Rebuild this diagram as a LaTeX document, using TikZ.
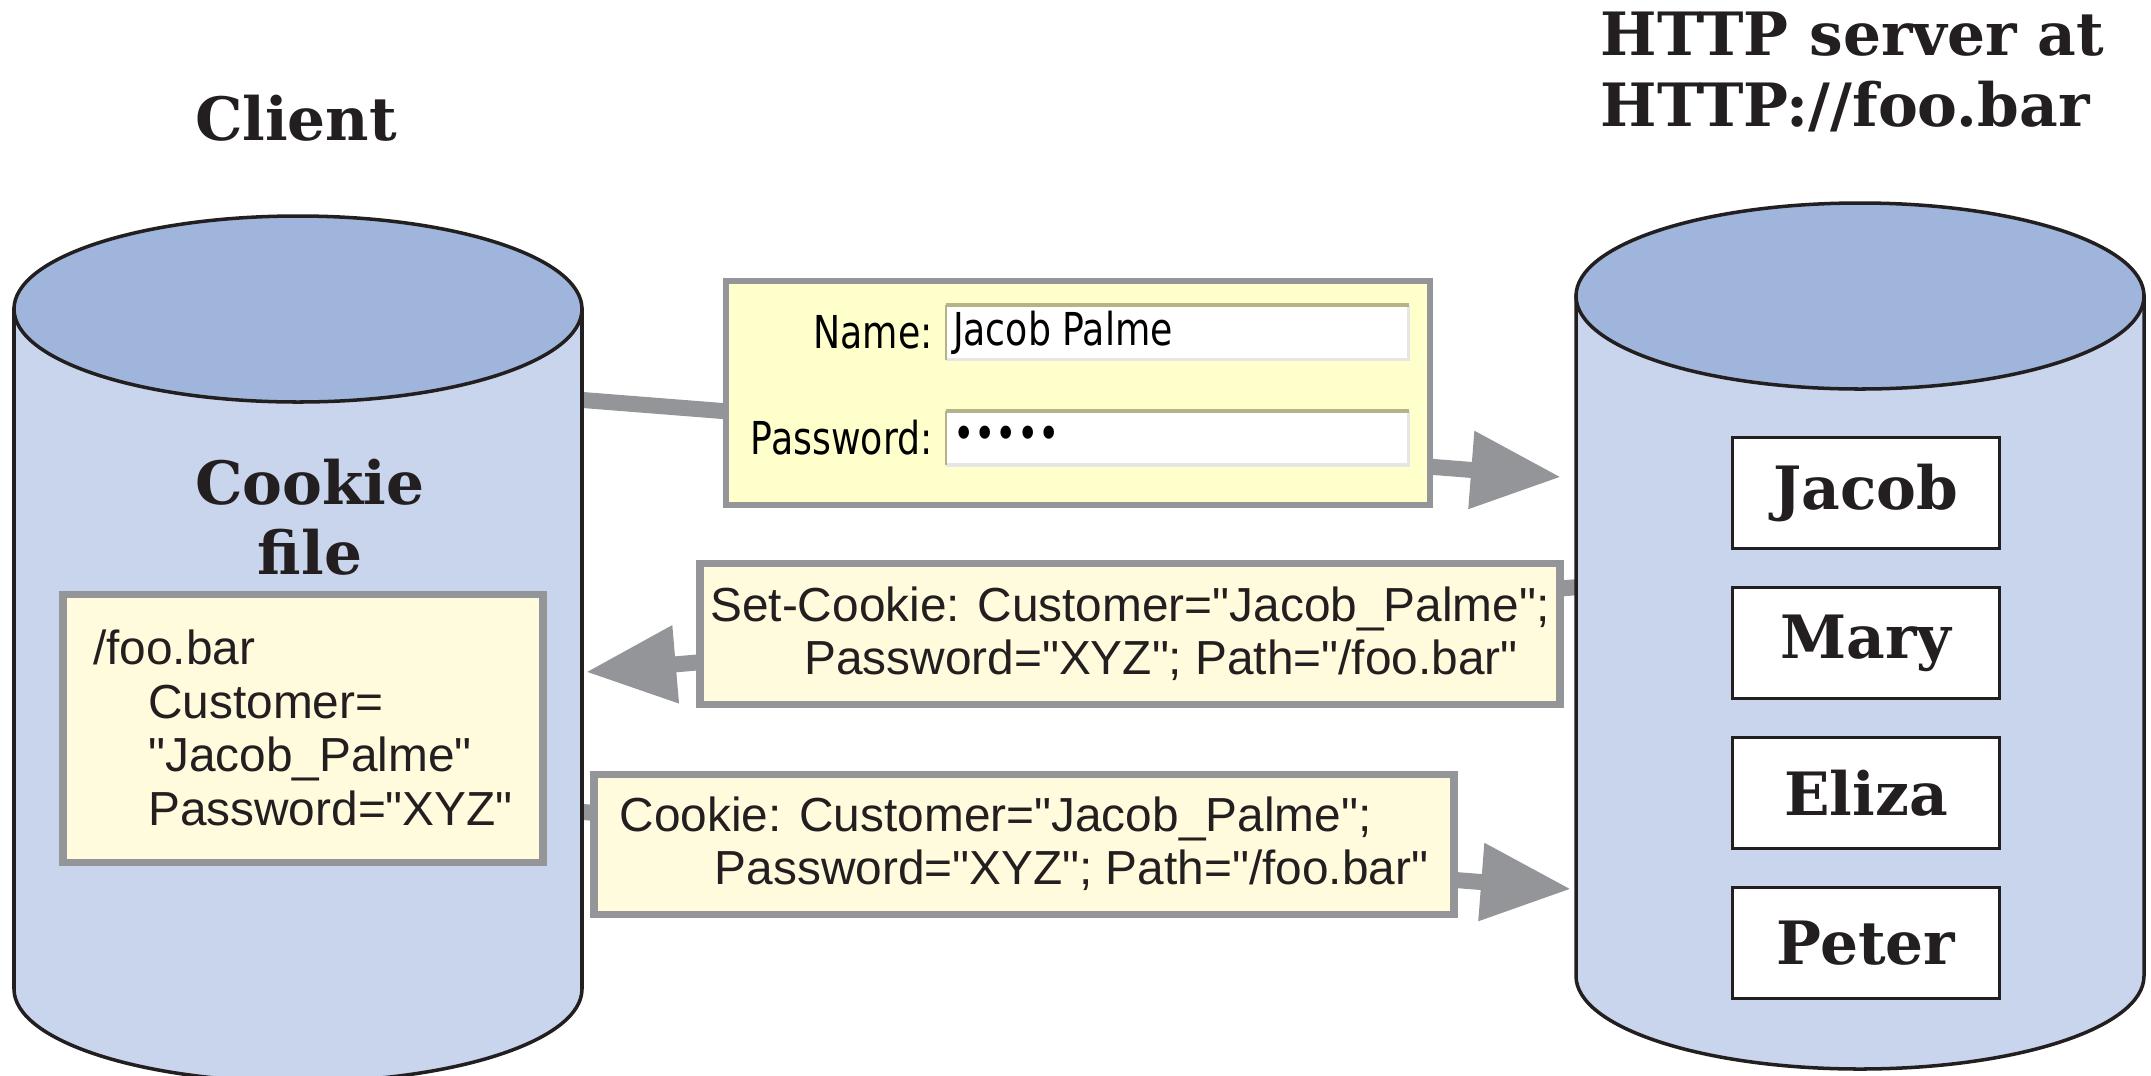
\documentclass[tikz,border=0pt]{standalone}
\usepackage{fontspec}
\usepackage{tikz}
\usetikzlibrary{backgrounds,positioning,arrows.meta}
\usepackage{xcolor}
\setmainfont{Liberation Sans}[Ligatures=TeXOff]
\newfontfamily\titlefont{DejaVu Serif}
\newfontfamily\formfont{DejaVu Sans}[FakeStretch=0.8]
\definecolor{topblue}{HTML}{A0B5DB}
\definecolor{bodyblue}{HTML}{C9D5EC}
\definecolor{arrowgray}{HTML}{939598}
\definecolor{formyellow}{HTML}{FFFFCC}
\definecolor{noteyellow}{HTML}{FFFBDC}
\definecolor{fieldolive}{HTML}{B5B38A}
\definecolor{fieldgray}{HTML}{E6E6E6}
\definecolor{inkblack}{HTML}{231F20}

\begin{document}
\begin{tikzpicture}[
  x=0.1mm, y=-0.1mm,
  cylstyle/.style={draw=inkblack, line width=1pt, fill=bodyblue},
  titlestyle/.style={inner sep=0, text=inkblack, font={\titlefont\bfseries\fontsize{17pt}{20pt}\selectfont}},
  namestyle/.style={titlestyle, draw=inkblack, line width=0.6pt, fill=white, minimum width=26.7mm, minimum height=11.1mm},
  notestyle/.style={draw=arrowgray, line width=2pt, fill=noteyellow, inner sep=0, align=left, text=inkblack, font={\fontsize{13.6pt}{15.2pt}\selectfont}},
  formstyle/.style={draw=arrowgray, line width=1.7pt, fill=formyellow, minimum width=70.4mm, minimum height=22.4mm},
  fieldstyle/.style={draw=none, fill=white, inner sep=0, minimum width=46.1mm, minimum height=5.3mm},
  formtext/.style={inner sep=0, font={\formfont\fontsize{12.9pt}{15pt}\selectfont}},
  pathstyle/.style={draw=arrowgray, line width=1.6mm, -{Triangle[length=9mm, width=7.4mm]}}
]
  \useasboundingbox (0,0) rectangle (2151,1075);

  % client and server stores
  \foreach \cx/\ty in {298/309, 1860/296} {
    \filldraw[cylstyle] (\cx-284,\ty) -- (\cx-284,\ty+680)
      arc[start angle=180, end angle=0, x radius=284, y radius=93] -- (\cx+284,\ty) -- cycle;
    \filldraw[cylstyle, fill=topblue] (\cx,\ty) ellipse[x radius=284, y radius=93];
  }

  \node[titlestyle] (clienttitle) at (296,118)
    {Client};
  \node[titlestyle, anchor=west, align=left] (servertitle) at (1600,72)
    {HTTP server at\\HTTP://foo.bar};
  \node[titlestyle, align=center] (cookietitle) at (310,517)
    {Cookie\\file};

  \node[notestyle, minimum width=48mm, minimum height=26.8mm] (cookiefile) at (303,728)
    {/foo.bar\\\hspace*{5.5mm}Customer=\\\hspace*{5.5mm}"Jacob\_Palme"\\\hspace*{5.5mm}Password="XYZ"};

  \foreach \nm [count=\i from 0] in {Jacob,Mary,Eliza,Peter}
    \node[namestyle] (\nm) at (1866,493+150*\i) {\nm};

  % login form
  \node[formstyle] (login) at (1078,393)
    {};
  \node[fieldstyle] (namefield) at (1177.5,332.5)
    {};
  \node[fieldstyle] (passfield) at (1177.5,438)
    {};
  \foreach \fld in {namefield,passfield} {
    \draw[fieldgray, line width=1pt] (\fld.north east) -- (\fld.south east) -- (\fld.south west);
    \draw[fieldolive, line width=0.6pt] (\fld.south west) -- (\fld.north west);
    \draw[fieldolive, line width=1.1pt] (\fld.north west) -- (\fld.north east);
  }
  \node[formtext, left=1.3mm of namefield] (namelabel)
    {Name:};
  \node[formtext, left=1.3mm of passfield] (passlabel)
    {Password:};
  \node[formtext, right=0.6mm of namefield.west] (namevalue)
    {Jacob Palme};
  \node[formtext, right=0.6mm of passfield.west] (passvalue)
    {•••••};

  % messages
  \node[notestyle, minimum width=86mm, minimum height=14.1mm] (setcookie) at (1130,634)
    {Set-Cookie: Customer="Jacob\_Palme";\\\hspace*{9.4mm}Password="XYZ"; Path="/foo.bar"};
  \node[notestyle, minimum width=86mm, minimum height=14mm] (cookiemsg) at (1024,844)
    {Cookie: Customer="Jacob\_Palme";\\\hspace*{9.5mm}Password="XYZ"; Path="/foo.bar"};

  \coordinate (loginstart) at (570,399);
  \coordinate (loginend) at (1561,477);
  \coordinate (setstart) at (1590,586);
  \coordinate (setend) at (586,672);
  \coordinate (cookiestart) at (570,811);
  \coordinate (cookieend) at (1571,889);

  \begin{scope}[on background layer]
    \draw[pathstyle] (loginstart) -- (loginend);
    \draw[pathstyle] (setstart) -- (setend);
    \draw[pathstyle] (cookiestart) -- (cookieend);
  \end{scope}
\end{tikzpicture}
\end{document}
